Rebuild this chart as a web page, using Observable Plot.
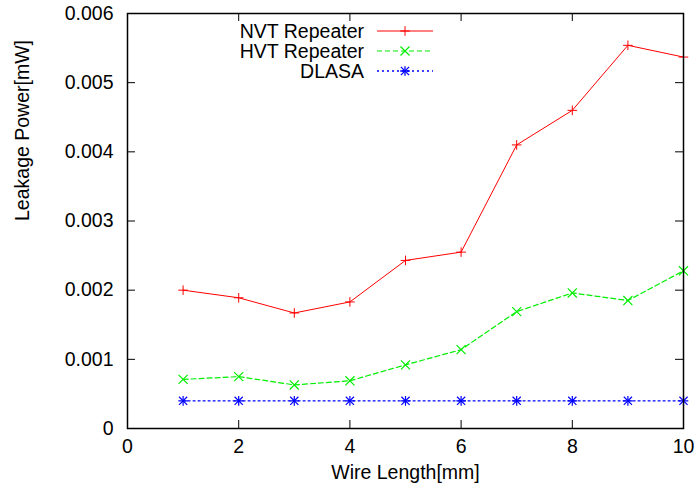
<!DOCTYPE html>
<html><head><meta charset="utf-8">
<script src="https://cdn.jsdelivr.net/npm/d3@7"></script>
<script src="https://cdn.jsdelivr.net/npm/@observablehq/plot@0.6"></script>
<style>body{margin:0;background:#fff}</style>
</head><body><div id="chart"></div>
<script>
const wireLength = [1, 2, 3, 4, 5, 6, 7, 8, 9, 10];
const nvtRepeater = [0.00200, 0.00189, 0.00167, 0.00183, 0.00243, 0.00255, 0.00410, 0.00460, 0.00554, 0.00537];
const hvtRepeater = [0.00071, 0.00075, 0.00063, 0.00069, 0.00092, 0.00114, 0.00169, 0.00196, 0.00185, 0.00228];
const dlasa = [0.0004, 0.0004, 0.0004, 0.0004, 0.0004, 0.0004, 0.0004, 0.0004, 0.0004, 0.0004];
const seriesNames = ["NVT Repeater", "HVT Repeater", "DLASA"];
const xTicks = [0, 2, 4, 6, 8, 10];
const yTicks = [0, 0.001, 0.002, 0.003, 0.004, 0.005, 0.006];
const yTickLabels = ["0", "0.001", "0.002", "0.003", "0.004", "0.005", "0.006"];
const xLabel = "Wire Length[mm]";
const yLabel = "Leakage Power[mW]";

const rows = wireLength.map((x, i) => ({x, nvt: nvtRepeater[i], hvt: hvtRepeater[i], dlasa: dlasa[i]}));

const W = 696, H = 492, mL = 127, mR = 13, mT = 13, mB = 64;
const innerW = W - mL - mR, innerH = H - mT - mB;
const T = 8;
const FS = 19.5;
const FONT = "'Liberation Sans', Arial, Helvetica, sans-serif";
const red = "#ff0000", green = "#00ee00", blue = "#0000ff";
const greenDash = "5,3", blueDash = "2,3";
const rPlus = 3.2, rTimes = 4.2, rStarTimes = 3.8;

const chart = Plot.plot({
  width: W, height: H,
  marginLeft: mL, marginRight: mR, marginTop: mT, marginBottom: mB,
  style: {fontFamily: FONT, fontSize: FS + "px", background: "#fff", color: "#000"},
  x: {domain: [0, 10]},
  y: {domain: [0, 0.006]},
  marks: [
    Plot.tickX(xTicks, {x: d => d, insetTop: innerH - T, stroke: "#000", strokeWidth: 1}),
    Plot.tickX(xTicks, {x: d => d, insetBottom: innerH - T, stroke: "#000", strokeWidth: 1}),
    Plot.tickY(yTicks, {y: d => d, insetRight: innerW - T, stroke: "#000", strokeWidth: 1}),
    Plot.tickY(yTicks, {y: d => d, insetLeft: innerW - T, stroke: "#000", strokeWidth: 1}),
    Plot.axisX(xTicks, {tickSize: 0, tickPadding: 11, label: null, fontSize: FS}),
    Plot.axisY(yTicks, {tickSize: 0, tickPadding: 14, label: null, fontSize: FS, tickFormat: d => yTickLabels[yTicks.indexOf(d)]}),
    Plot.text([xLabel], {text: d => d, frameAnchor: "bottom", dy: 50, fontSize: FS}),
    Plot.text([yLabel], {text: d => d, frameAnchor: "left", dx: -105, rotate: -90, fontSize: FS}),
    Plot.line(rows, {x: "x", y: "nvt", stroke: red, strokeWidth: 1}),
    Plot.line(rows, {x: "x", y: "hvt", stroke: green, strokeWidth: 1.2, strokeDasharray: greenDash}),
    Plot.line(rows, {x: "x", y: "dlasa", stroke: blue, strokeWidth: 1.3, strokeDasharray: blueDash}),
    Plot.dot(rows, {x: "x", y: "nvt", symbol: "plus", r: rPlus, stroke: red, strokeWidth: 1}),
    Plot.dot(rows, {x: "x", y: "hvt", symbol: "times", r: rTimes, stroke: green, strokeWidth: 1.2}),
    Plot.dot(rows, {x: "x", y: "dlasa", symbol: "plus", r: rPlus, stroke: blue, strokeWidth: 1.2}),
    Plot.dot(rows, {x: "x", y: "dlasa", symbol: "times", r: rStarTimes, stroke: blue, strokeWidth: 1.2}),
    Plot.frame({stroke: "#000", strokeWidth: 1.5})
  ]
});

// legend (gnuplot style, inside top)
const svg = d3.select(chart);
const lg = svg.append("g").attr("font-family", FONT).attr("font-size", FS);
const styles = [
  {stroke: red, dash: null, sw: 1, syms: [[d3.symbolPlus, rPlus]]},
  {stroke: green, dash: greenDash, sw: 1.2, syms: [[d3.symbolTimes, rTimes]]},
  {stroke: blue, dash: blueDash, sw: 1.3, syms: [[d3.symbolPlus, rPlus], [d3.symbolTimes, rStarTimes]]}
];
seriesNames.forEach((name, i) => {
  const y = 31 + i * 20;
  const s = styles[i];
  lg.append("text").attr("x", 364).attr("y", y).attr("text-anchor", "end").attr("dy", "0.35em").attr("fill", "#000").text(name);
  lg.append("line").attr("x1", 377).attr("x2", 433).attr("y1", y).attr("y2", y)
    .attr("stroke", s.stroke).attr("stroke-width", s.sw).attr("stroke-dasharray", s.dash);
  s.syms.forEach(([type, r]) => {
    lg.append("path").attr("d", d3.symbol(type, r * r * Math.PI)()).attr("transform", `translate(405,${y})`)
      .attr("fill", "none").attr("stroke", s.stroke).attr("stroke-width", s.sw);
  });
});

document.getElementById("chart").appendChild(chart);
</script>
</body></html>
